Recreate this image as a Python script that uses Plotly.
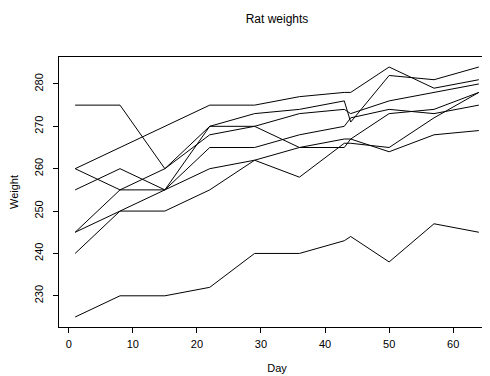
import plotly.graph_objects as go

days = [1, 8, 15, 22, 29, 36, 43, 44, 50, 57, 64]
rat1 = [240, 250, 255, 260, 262, 258, 266, 266, 265, 272, 278]
rat2 = [225, 230, 230, 232, 240, 240, 243, 244, 238, 247, 245]
rat3 = [245, 250, 250, 255, 262, 265, 267, 267, 264, 268, 269]
rat4 = [260, 255, 255, 265, 265, 268, 270, 272, 274, 273, 275]
rat5 = [255, 260, 255, 270, 270, 273, 274, 273, 276, 278, 280]
rat6 = [260, 265, 270, 275, 275, 277, 278, 278, 284, 279, 281]
rat7 = [275, 275, 260, 270, 273, 274, 276, 271, 282, 281, 284]
rat8 = [245, 255, 260, 268, 270, 265, 265, 267, 273, 274, 278]
rats = [rat1, rat2, rat3, rat4, rat5, rat6, rat7, rat8]

x_ticks = [0, 10, 20, 30, 40, 50, 60]
y_ticks = [230, 240, 250, 260, 270, 280]

fig = go.Figure()
for i, w in enumerate(rats):
    fig.add_trace(go.Scatter(x=days, y=w, mode="lines", name=f"Rat {i+1}",
                             line=dict(color="black", width=1), showlegend=False))

font = "Liberation Sans, Arial, Helvetica, sans-serif"
fig.update_layout(
    width=490, height=376,
    margin=dict(l=51, r=3, t=49, b=57),
    paper_bgcolor="white", plot_bgcolor="white",
    font=dict(family=font, size=11, color="black"),
    title=dict(text="Rat weights", x=0.549, xref="container", xanchor="center",
               y=1 - 11/376, yref="container", yanchor="middle",
               font=dict(family=font, size=12, color="black")),
    xaxis=dict(range=[-1.52, 66.52], tickvals=x_ticks, ticks="outside", ticklen=5,
               tickwidth=1, tickcolor="black", showline=True, linecolor="black",
               linewidth=1, mirror=True, showgrid=False, zeroline=False,
               ticklabelstandoff=2, automargin=False,
               title=dict(text="Day", standoff=15, font=dict(size=11))),
    yaxis=dict(range=[222.64, 286.36], tickvals=y_ticks, ticks="outside", ticklen=5,
               tickwidth=1, tickcolor="black", showline=True, linecolor="black",
               linewidth=1, mirror=True, showgrid=False, zeroline=False,
               tickangle=-90, ticklabelstandoff=6, automargin=False,
               title=dict(text="Weight", standoff=17, font=dict(size=11))),
)
fig.write_html("out.html")
